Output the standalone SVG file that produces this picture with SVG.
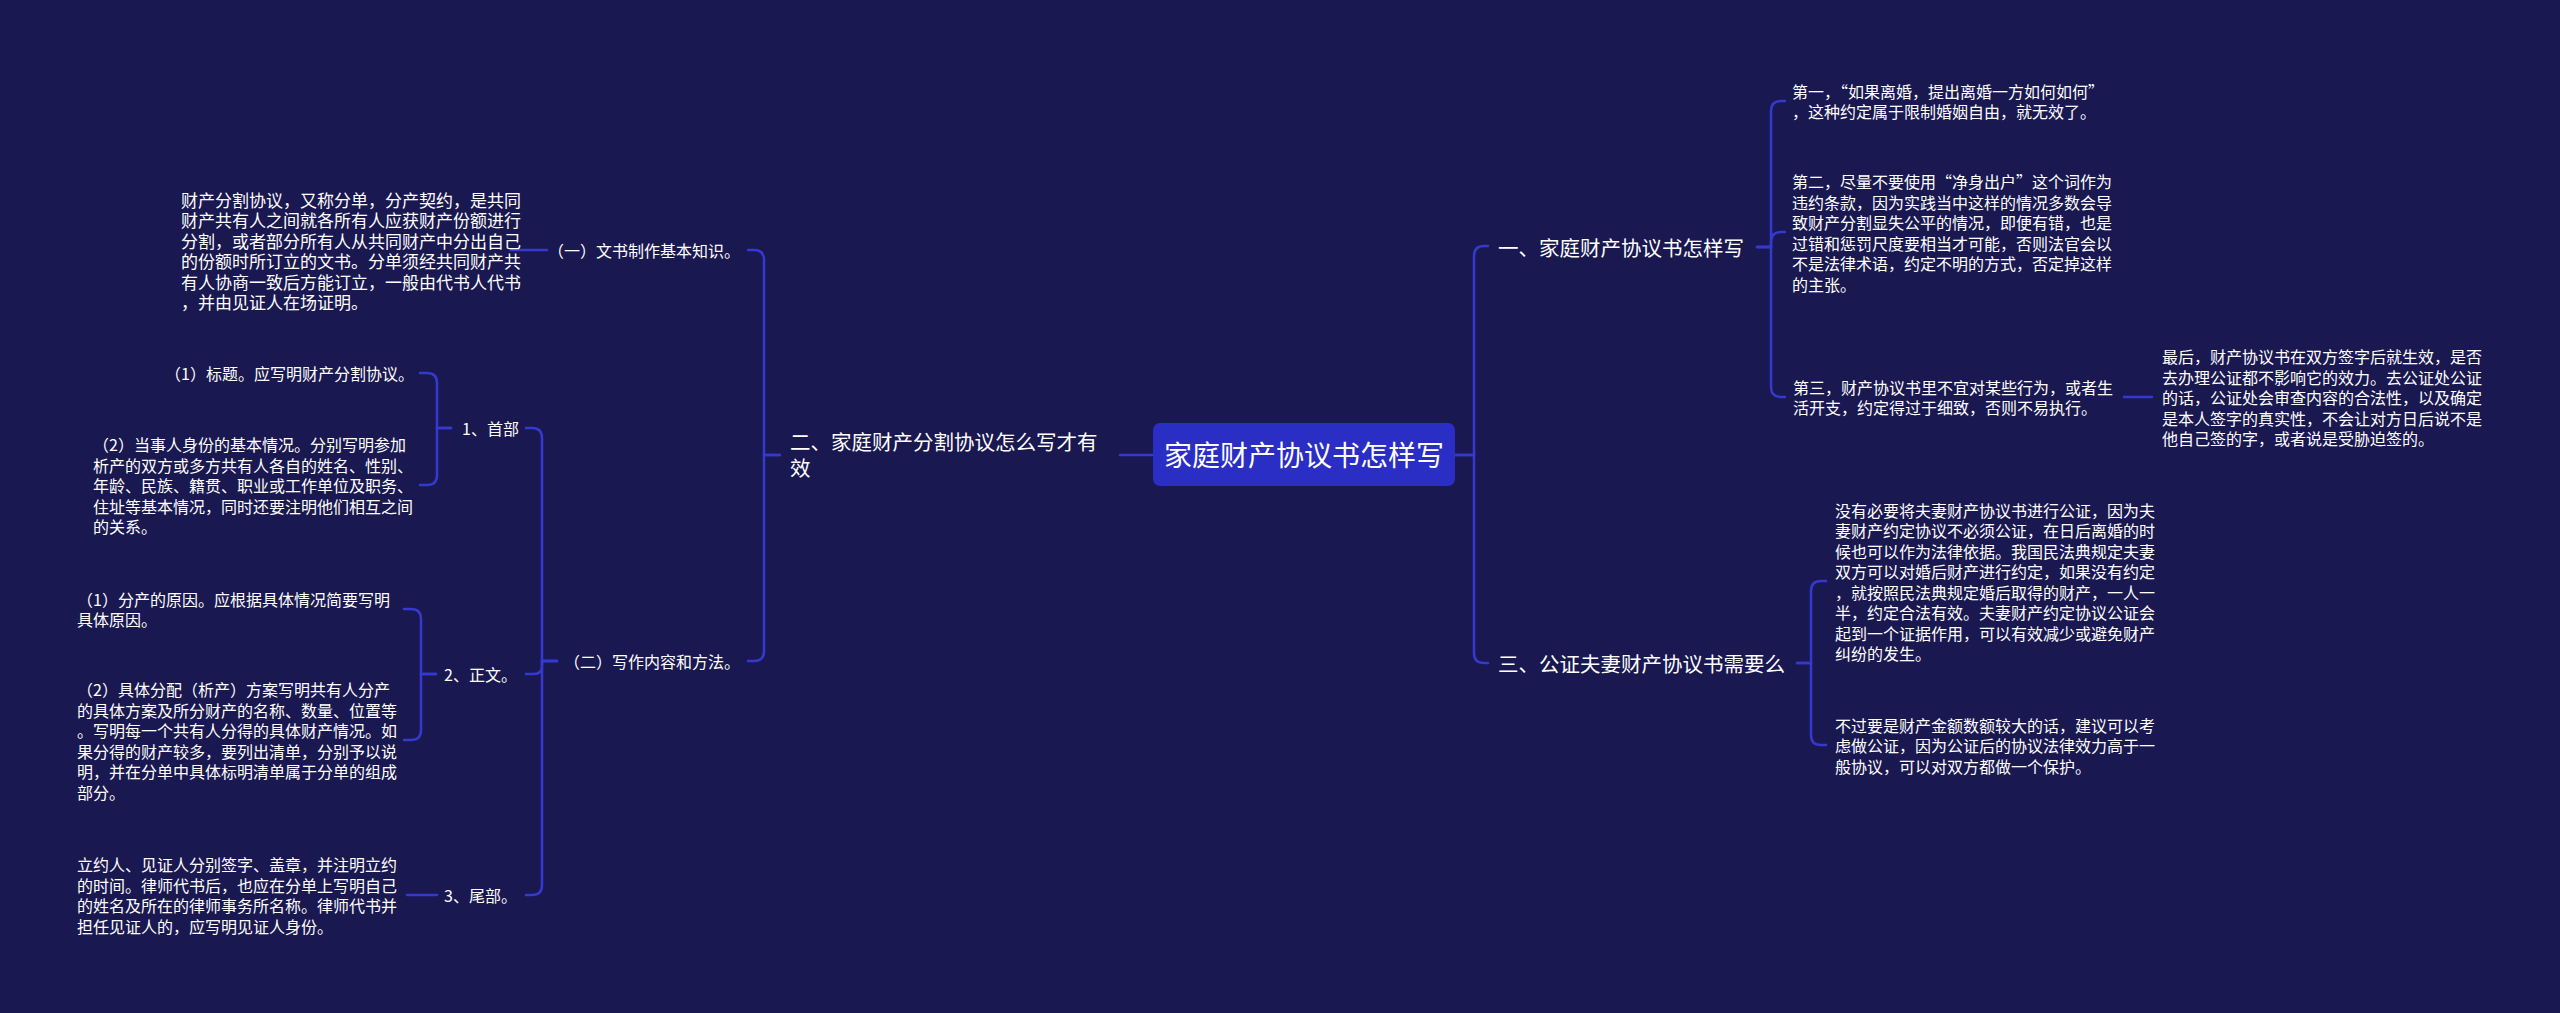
<svg xmlns="http://www.w3.org/2000/svg" width="2560" height="1013" viewBox="0 0 2560 1013">
<style>
text{fill:#ffffff;font-family:"Noto Sans CJK SC","Noto Sans",sans-serif;dominant-baseline:central}
.p{font-size:16px}
.p17{font-size:17px}
.l2{font-size:16px}
.l1{font-size:20.5px}
.c{font-size:28px}
.e{text-anchor:end}
.lines path{fill:none;stroke:#3539d0;stroke-width:2.5;stroke-linecap:round}
</style>
<rect x="0" y="0" width="2560" height="1013" fill="#1a1850"/>
<g class="lines" id="connectors">
<path d="M1153 455 H1120"/>
<path d="M780 455 H764 V260 Q764 250 754 250 H748"/>
<path d="M780 455 H764 V651 Q764 661 754 661 H748"/>
<path d="M547 250 H511"/>
<path d="M557 661 H542 V438 Q542 428 532 428 H526"/>
<path d="M557 661 H542 V666 Q542 674 534 674 H526"/>
<path d="M557 661 H542 V885 Q542 895 532 895 H526"/>
<path d="M451 428 H437 V383 Q437 373 427 373 H420"/>
<path d="M451 428 H437 V475 Q437 485 427 485 H420"/>
<path d="M436 674 H421 V619 Q421 609 411 609 H404"/>
<path d="M436 674 H421 V730 Q421 740 411 740 H404"/>
<path d="M437 895 H407"/>
<path d="M1455 455 H1474 V256 Q1474 246 1484 246 H1488"/>
<path d="M1455 455 H1474 V653 Q1474 663 1484 663 H1488"/>
<path d="M1757 247 H1771 V111 Q1771 101 1781 101 H1785"/>
<path d="M1757 247 H1771 V242 Q1771 232 1781 232 H1785"/>
<path d="M1757 247 H1771 V387 Q1771 397 1781 397 H1785"/>
<path d="M2124 397 H2152"/>
<path d="M1797 663 H1811 V591 Q1811 581 1821 581 H1826"/>
<path d="M1797 663 H1811 V735 Q1811 745 1821 745 H1826"/>
</g>
<g id="center">
<rect x="1153" y="423" width="302" height="63" rx="7" fill="#2a2ec4"/>
<text class="c" x="1304" y="454" text-anchor="middle">家庭财产协议书怎样写</text>
</g>
<g id="n-er">
<text class="l1" x="790" y="441">二、家庭财产分割协议怎么写才有</text>
<text class="l1" x="790" y="467">效</text>
</g>
<g id="n-yi-a">
<text class="l2 e" x="740" y="250">（一）文书制作基本知识。</text>
</g>
<g id="n-yi-a-p">
<text class="p17" x="181" y="199.3">财产分割协议，又称分单，分产契约，是共同</text>
<text class="p17" x="181" y="219.8">财产共有人之间就各所有人应获财产份额进行</text>
<text class="p17" x="181" y="240.3">分割，或者部分所有人从共同财产中分出自己</text>
<text class="p17" x="181" y="260.8">的份额时所订立的文书。分单须经共同财产共</text>
<text class="p17" x="181" y="281.3">有人协商一致后方能订立，一般由代书人代书</text>
<text class="p17" x="181" y="301.8">，并由见证人在场证明。</text>
</g>
<g id="n-er-a">
<text class="l2 e" x="740" y="661">（二）写作内容和方法。</text>
</g>
<g id="n-shoubu">
<text class="l2 e" x="519" y="428">1、首部</text>
</g>
<g id="n-shoubu-1">
<text class="p e" x="414" y="373">（1）标题。应写明财产分割协议。</text>
</g>
<g id="n-shoubu-2">
<text class="p" x="93" y="444">（2）当事人身份的基本情况。分别写明参加</text>
<text class="p" x="93" y="464.5">析产的双方或多方共有人各自的姓名、性别、</text>
<text class="p" x="93" y="485">年龄、民族、籍贯、职业或工作单位及职务、</text>
<text class="p" x="93" y="505.5">住址等基本情况，同时还要注明他们相互之间</text>
<text class="p" x="93" y="526">的关系。</text>
</g>
<g id="n-zhengwen">
<text class="l2 e" x="517" y="674">2、正文。</text>
</g>
<g id="n-zhengwen-1">
<text class="p" x="77" y="598.8">（1）分产的原因。应根据具体情况简要写明</text>
<text class="p" x="77" y="619.3">具体原因。</text>
</g>
<g id="n-zhengwen-2">
<text class="p" x="77" y="689.3">（2）具体分配（析产）方案写明共有人分产</text>
<text class="p" x="77" y="709.8">的具体方案及所分财产的名称、数量、位置等</text>
<text class="p" x="77" y="730.3">。写明每一个共有人分得的具体财产情况。如</text>
<text class="p" x="77" y="750.8">果分得的财产较多，要列出清单，分别予以说</text>
<text class="p" x="77" y="771.3">明，并在分单中具体标明清单属于分单的组成</text>
<text class="p" x="77" y="791.8">部分。</text>
</g>
<g id="n-weibu">
<text class="l2 e" x="517" y="895">3、尾部。</text>
</g>
<g id="n-weibu-p">
<text class="p" x="77" y="864.3">立约人、见证人分别签字、盖章，并注明立约</text>
<text class="p" x="77" y="884.8">的时间。律师代书后，也应在分单上写明自己</text>
<text class="p" x="77" y="905.3">的姓名及所在的律师事务所名称。律师代书并</text>
<text class="p" x="77" y="925.8">担任见证人的，应写明见证人身份。</text>
</g>
<g id="n-yi">
<text class="l1" x="1498" y="247">一、家庭财产协议书怎样写</text>
</g>
<g id="n-yi-1">
<text class="p" x="1792" y="90.8">第一，“如果离婚，提出离婚一方如何如何”</text>
<text class="p" x="1792" y="111.3">，这种约定属于限制婚姻自由，就无效了。</text>
</g>
<g id="n-yi-2">
<text class="p" x="1792" y="181.3">第二，尽量不要使用“净身出户”这个词作为</text>
<text class="p" x="1792" y="201.8">违约条款，因为实践当中这样的情况多数会导</text>
<text class="p" x="1792" y="222.3">致财产分割显失公平的情况，即便有错，也是</text>
<text class="p" x="1792" y="242.8">过错和惩罚尺度要相当才可能，否则法官会以</text>
<text class="p" x="1792" y="263.3">不是法律术语，约定不明的方式，否定掉这样</text>
<text class="p" x="1792" y="283.8">的主张。</text>
</g>
<g id="n-yi-3">
<text class="p" x="1793" y="386.8">第三，财产协议书里不宜对某些行为，或者生</text>
<text class="p" x="1793" y="407.3">活开支，约定得过于细致，否则不易执行。</text>
</g>
<g id="n-yi-3-1">
<text class="p" x="2162" y="356">最后，财产协议书在双方签字后就生效，是否</text>
<text class="p" x="2162" y="376.5">去办理公证都不影响它的效力。去公证处公证</text>
<text class="p" x="2162" y="397">的话，公证处会审查内容的合法性，以及确定</text>
<text class="p" x="2162" y="417.5">是本人签字的真实性，不会让对方日后说不是</text>
<text class="p" x="2162" y="438">他自己签的字，或者说是受胁迫签的。</text>
</g>
<g id="n-san">
<text class="l1" x="1498" y="663">三、公证夫妻财产协议书需要么</text>
</g>
<g id="n-san-1">
<text class="p" x="1835" y="509.8">没有必要将夫妻财产协议书进行公证，因为夫</text>
<text class="p" x="1835" y="530.3">妻财产约定协议不必须公证，在日后离婚的时</text>
<text class="p" x="1835" y="550.8">候也可以作为法律依据。我国民法典规定夫妻</text>
<text class="p" x="1835" y="571.3">双方可以对婚后财产进行约定，如果没有约定</text>
<text class="p" x="1835" y="591.8">，就按照民法典规定婚后取得的财产，一人一</text>
<text class="p" x="1835" y="612.3">半，约定合法有效。夫妻财产约定协议公证会</text>
<text class="p" x="1835" y="632.8">起到一个证据作用，可以有效减少或避免财产</text>
<text class="p" x="1835" y="653.3">纠纷的发生。</text>
</g>
<g id="n-san-2">
<text class="p" x="1835" y="724.5">不过要是财产金额数额较大的话，建议可以考</text>
<text class="p" x="1835" y="745">虑做公证，因为公证后的协议法律效力高于一</text>
<text class="p" x="1835" y="765.5">般协议，可以对双方都做一个保护。</text>
</g>
</svg>
